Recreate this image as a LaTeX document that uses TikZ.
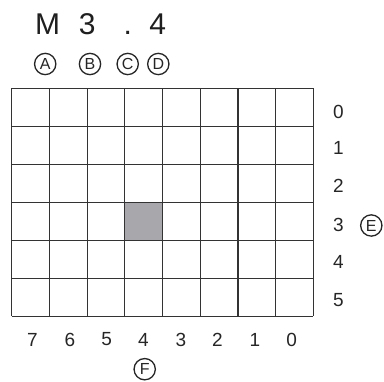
\documentclass[tikz,border=0pt]{standalone}
\usepackage{fontspec}
\setmainfont{Liberation Sans}
\begin{document}
\begin{tikzpicture}[x=1pt,y=-1pt,
  gridline/.style={draw=black!80,line width=1.2pt},
  bigtxt/.style={font=\fontsize{30}{34}\selectfont,text=black!88,inner sep=0pt,anchor=base},
  numtxt/.style={font=\fontsize{19}{22}\selectfont,text=black!85,inner sep=0pt},
  circlbl/.style={circle,draw=black!85,line width=1.3pt,minimum size=21.3pt,inner sep=0pt,
     font=\fontsize{16}{18}\selectfont,text=black!85}]
\useasboundingbox (0,0) rectangle (384,382);
\fill[white] (0,0) rectangle (384,382);
% highlighted cell
\fill[fill={rgb,255:red,168;green,168;blue,172}] (124.3,202.2) rectangle (162.0,240.2);
% grid
\foreach \i in {0,...,8} {
  \draw[gridline] ({11.7+37.7*\i},88.2) -- ({11.7+37.7*\i},316.2);
}
\foreach \j in {0,...,6} {
  \draw[gridline] (11.7,{88.2+38*\j}) -- (313.3,{88.2+38*\j});
}
% top address
\node[bigtxt] (tM) at (47.7,34.5) {M};
\node[bigtxt] (t3) at (87.3,34.5) {3};
\node[bigtxt] (tdot) at (127.7,34.5) {.};
\node[bigtxt] (t4) at (157.7,34.5) {4};
% circled labels
\node[circlbl] (cA) at (45.2,64) {A};
\node[circlbl] (cB) at (90,64) {B};
\node[circlbl] (cC) at (127.7,64) {C};
\node[circlbl] (cD) at (158.3,64) {D};
\node[circlbl] (cE) at (371.3,225.5) {E};
\node[circlbl] (cF) at (144.7,369.2) {F};
% row numbers
\node[numtxt] (r0) at (338.3,111.7) {0};
\node[numtxt] (r1) at (338.3,148.3) {1};
\node[numtxt] (r2) at (338.3,186) {2};
\node[numtxt] (r3) at (338.3,225.3) {3};
\node[numtxt] (r4) at (338.3,261.7) {4};
\node[numtxt] (r5) at (338.3,300) {5};
% bit numbers
\node[numtxt] (b7) at (32.3,339.5) {7};
\node[numtxt] (b6) at (70,339.5) {6};
\node[numtxt] (b5) at (106.7,339.5) {5};
\node[numtxt] (b4) at (143.3,339.5) {4};
\node[numtxt] (b3) at (181,339.5) {3};
\node[numtxt] (b2) at (217.3,339.5) {2};
\node[numtxt] (b1) at (255,339.5) {1};
\node[numtxt] (b0) at (291.7,339.5) {0};
\end{tikzpicture}
\end{document}
